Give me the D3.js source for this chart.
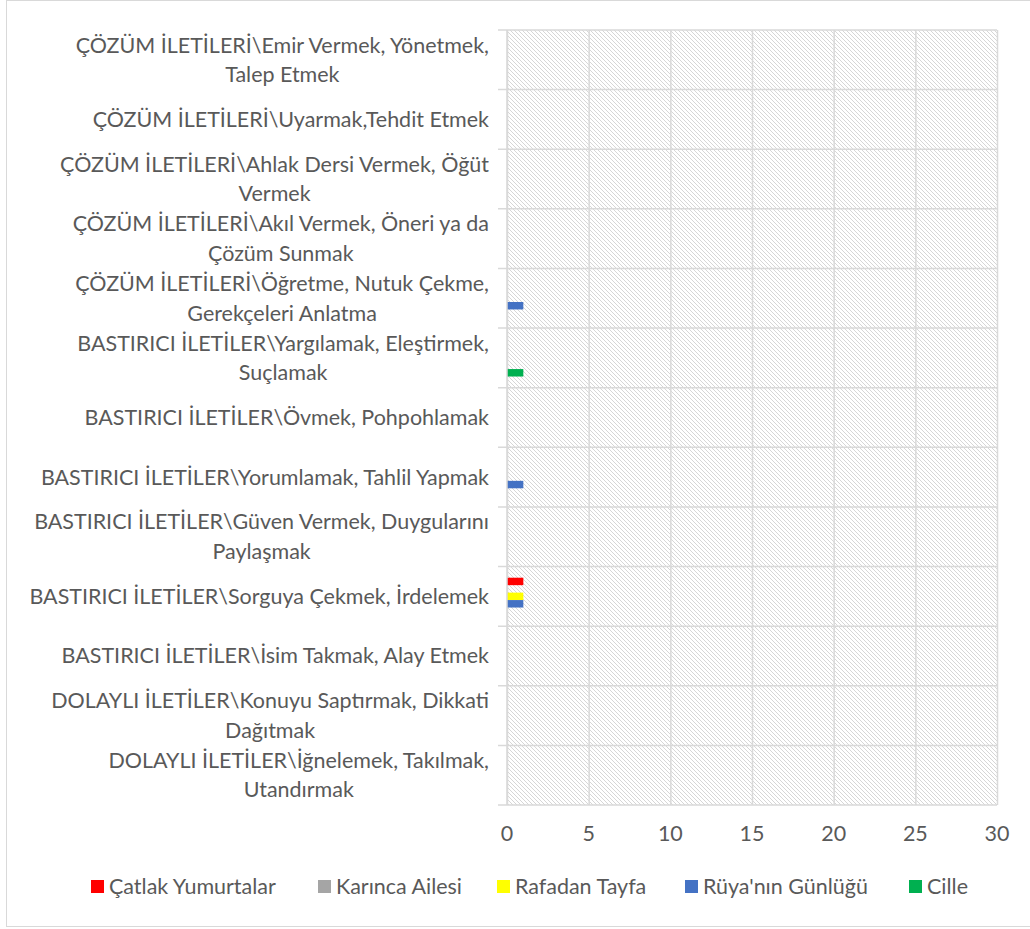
<!DOCTYPE html>
<html><head><meta charset="utf-8">
<script src="https://cdn.jsdelivr.net/npm/d3@7"></script>
<style>body{margin:0;background:#fff}svg{display:block}</style>
</head><body><svg id="c" width="1030" height="929"></svg>
<script>
// Categories, top to bottom ("\n" marks the wrap shown in the chart)
const categories = [
  "ÇÖZÜM İLETİLERİ\\Emir Vermek, Yönetmek,\nTalep Etmek",
  "ÇÖZÜM İLETİLERİ\\Uyarmak,Tehdit Etmek",
  "ÇÖZÜM İLETİLERİ\\Ahlak Dersi Vermek, Öğüt\nVermek",
  "ÇÖZÜM İLETİLERİ\\Akıl Vermek, Öneri ya da\nÇözüm Sunmak",
  "ÇÖZÜM İLETİLERİ\\Öğretme, Nutuk Çekme,\nGerekçeleri Anlatma",
  "BASTIRICI İLETİLER\\Yargılamak, Eleştirmek,\nSuçlamak",
  "BASTIRICI İLETİLER\\Övmek, Pohpohlamak",
  "BASTIRICI İLETİLER\\Yorumlamak, Tahlil Yapmak",
  "BASTIRICI İLETİLER\\Güven Vermek, Duygularını\nPaylaşmak",
  "BASTIRICI İLETİLER\\Sorguya Çekmek, İrdelemek",
  "BASTIRICI İLETİLER\\İsim Takmak, Alay Etmek",
  "DOLAYLI İLETİLER\\Konuyu Saptırmak, Dikkati\nDağıtmak",
  "DOLAYLI İLETİLER\\İğnelemek, Takılmak,\nUtandırmak"
];
const seriesNames = ["Çatlak Yumurtalar","Karınca Ailesi","Rafadan Tayfa","Rüya'nın Günlüğü","Cille"];
const catlakYumurtalar = [0,0,0,0,0,0,0,0,0,1,0,0,0];
const karincaAilesi    = [0,0,0,0,0,0,0,0,0,0,0,0,0];
const rafadanTayfa     = [0,0,0,0,0,0,0,0,0,1,0,0,0];
const ruyaninGunlugu   = [0,0,0,0,1,0,0,1,0,1,0,0,0];
const cille            = [0,0,0,0,0,1,0,0,0,0,0,0,0];
const seriesValues = [catlakYumurtalar,karincaAilesi,rafadanTayfa,ruyaninGunlugu,cille];
const seriesColors = ["#FF0000","#A5A5A5","#FFFF00","#4472C4","#00B050"];
const xTicks = [0,5,10,15,20,25,30];

const svg = d3.select("#c");
const FONT = "Lato, 'Open Sans', sans-serif";
const TXT = "#595959", GRID = "#d9d9d9";

// pick font size so that the widest single label matches the picture width
const probe = svg.append("text").attr("font-family",FONT).attr("font-size",20)
  .text("BASTIRICI İLETİLER\\Sorguya Çekmek, İrdelemek");
const fs = 20 * 460 / probe.node().getComputedTextLength();
probe.remove();

const L = 507, R = 997, T = 30, B = 805;
const x = d3.scaleLinear().domain([0,30]).range([L,R]);
const y0 = d3.scaleBand().domain(categories).range([T,B]);
const y1 = d3.scaleBand().domain(seriesNames).range([0,y0.bandwidth()]).paddingInner(0).paddingOuter(1.5);

// outer border
svg.append("rect").attr("x",6.5).attr("y",0.5).attr("width",1030).attr("height",926)
  .attr("fill","none").attr("stroke",GRID).attr("stroke-width",1);

// hatch pattern
const defs = svg.append("defs");
const pat = defs.append("pattern").attr("id","hatch").attr("patternUnits","userSpaceOnUse")
  .attr("width",4).attr("height",4);
pat.append("rect").attr("width",4).attr("height",4).attr("fill","#fff");
pat.append("path").attr("d","M-1,-1L5,5M-1,3L1,5M3,-1L5,1")
  .attr("stroke","#d6d6d6").attr("stroke-width",1);
svg.append("rect").attr("x",L).attr("y",T).attr("width",R-L).attr("height",B-T).attr("fill","url(#hatch)");

// vertical gridlines via axis
const gx = svg.append("g").attr("transform",`translate(0,${B})`)
  .call(d3.axisBottom(x).tickValues(xTicks).tickSize(-(B-T)).tickFormat(""));
gx.select(".domain").remove();
gx.selectAll(".tick line").attr("stroke",GRID).attr("stroke-width",1.5);

// horizontal category lines (with outward ticks)
const bounds = categories.map(c=>y0(c)).concat([B]);
svg.append("g").selectAll("line").data(bounds).join("line")
  .attr("x1",L-9).attr("x2",R).attr("y1",d=>d).attr("y2",d=>d)
  .attr("stroke",GRID).attr("stroke-width",1.5);
// category axis line
svg.append("line").attr("x1",L).attr("x2",L).attr("y1",T).attr("y2",B).attr("stroke",GRID).attr("stroke-width",1.5);

// bars
const bars = [];
categories.forEach((c,i)=>seriesNames.forEach((s,j)=>bars.push({c,s,v:seriesValues[j][i],col:seriesColors[j]})));
svg.append("g").selectAll("rect").data(bars.filter(d=>d.v>0)).join("rect")
  .attr("x",x(0)+0.75).attr("y",d=>y0(d.c)+y1(d.s))
  .attr("width",d=>x(d.v)-x(0)-0.75).attr("height",y1.bandwidth())
  .attr("fill",d=>d.col);

// category labels
const lab = svg.append("g").attr("font-family",FONT).attr("font-size",fs).attr("fill",TXT);
categories.forEach(c=>{
  const lines = c.split("\n");
  const cy = y0(c) + y0.bandwidth()/2;
  const g = lab.append("g");
  const ts = lines.map((ln,k)=>{
    const base = lines.length===1 ? cy+7.5 : cy-7.25 + k*29.5;
    return g.append("text").attr("y",base).attr("text-anchor","middle").text(ln);
  });
  const w = d3.max(ts,t=>t.node().getComputedTextLength());
  const right = 489;
  ts.forEach(t=>t.attr("x",right - w/2));
});

// x tick labels
svg.append("g").attr("font-family",FONT).attr("font-size",fs).attr("fill",TXT)
  .selectAll("text").data(xTicks).join("text")
  .attr("x",d=>x(d)).attr("y",841).attr("text-anchor","middle").text(d=>d);

// legend
const legX = [91,318,497,685,909];
const lg = svg.append("g").attr("font-family",FONT).attr("font-size",fs).attr("fill",TXT);
seriesNames.forEach((s,j)=>{
  lg.append("rect").attr("x",legX[j]).attr("y",880).attr("width",13).attr("height",13).attr("fill",seriesColors[j]);
  lg.append("text").attr("x",legX[j]+18).attr("y",894).text(s);
});
</script></body></html>
